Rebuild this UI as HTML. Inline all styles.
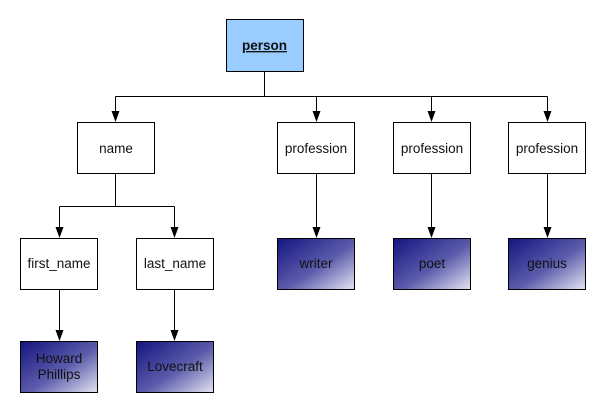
<!DOCTYPE html>
<html><head><meta charset="utf-8"><style>
html,body{margin:0;padding:0;background:#fff;}
svg{display:block;}
text{font-family:"Liberation Sans",Arial,sans-serif;font-size:13.5px;fill:#111;}
</style></head><body>
<svg width="599" height="401" viewBox="0 0 599 401" xmlns="http://www.w3.org/2000/svg">
<defs>
<linearGradient id="g" x1="0" y1="0" x2="1" y2="1">
<stop offset="0" stop-color="#141480"/>
<stop offset="0.55" stop-color="#5c5cac"/>
<stop offset="1" stop-color="#e4e4f2"/>
</linearGradient>
</defs>
<g stroke="#000" stroke-width="1" fill="none">
<path d="M264.5,71 V96.5 M115.5,96.5 H547.5"/>
<path d="M115.5,96.5 V112"/><path d="M316.5,96.5 V112"/><path d="M431.5,96.5 V112"/><path d="M547.5,96.5 V112"/>
<path d="M115.5,173 V206.5 M59.5,206.5 H174.5 M59.5,206.5 V228 M174.5,206.5 V228"/>
<path d="M59.5,289 V331"/><path d="M174.5,289 V331"/>
<path d="M316.5,173 V228"/><path d="M431.5,173 V228"/><path d="M547.5,173 V228"/>
</g>
<g fill="#000">
<path d="M111.5,111 L119.5,111 L115.5,122 Z"/>
<path d="M312.5,111 L320.5,111 L316.5,122 Z"/>
<path d="M427.5,111 L435.5,111 L431.5,122 Z"/>
<path d="M543.5,111 L551.5,111 L547.5,122 Z"/>
<path d="M55.5,227 L63.5,227 L59.5,238 Z"/>
<path d="M170.5,227 L178.5,227 L174.5,238 Z"/>
<path d="M312.5,227 L320.5,227 L316.5,238 Z"/>
<path d="M427.5,227 L435.5,227 L431.5,238 Z"/>
<path d="M543.5,227 L551.5,227 L547.5,238 Z"/>
<path d="M55.5,330 L63.5,330 L59.5,341 Z"/>
<path d="M170.5,330 L178.5,330 L174.5,341 Z"/>
</g>
<g stroke="#000" stroke-width="1">
<rect x="226.5" y="19.5" width="77" height="52" fill="#99ccff"/>
<rect x="77.5" y="122.5" width="77" height="51" fill="#fff"/>
<rect x="277.5" y="122.5" width="77" height="51" fill="#fff"/>
<rect x="393.5" y="122.5" width="77" height="51" fill="#fff"/>
<rect x="508.5" y="122.5" width="77" height="51" fill="#fff"/>
<rect x="20.5" y="238.5" width="77" height="51" fill="#fff"/>
<rect x="136.5" y="238.5" width="77" height="51" fill="#fff"/>
<rect x="277.5" y="238.5" width="77" height="51" fill="url(#g)"/>
<rect x="393.5" y="238.5" width="77" height="51" fill="url(#g)"/>
<rect x="508.5" y="238.5" width="77" height="51" fill="url(#g)"/>
<rect x="20.5" y="341.5" width="77" height="51" fill="url(#g)"/>
<rect x="136.5" y="341.5" width="77" height="51" fill="url(#g)"/>
</g>
<g text-anchor="middle">
<text x="264.5" y="50" font-weight="bold" style="text-decoration:underline">person</text>
<text x="116" y="153">name</text>
<text x="316" y="153">profession</text>
<text x="432" y="153">profession</text>
<text x="547" y="153">profession</text>
<text x="59" y="268">first_name</text>
<text x="175" y="268">last_name</text>
<text x="316" y="268">writer</text>
<text x="432" y="268">poet</text>
<text x="547" y="268">genius</text>
<text x="59" y="363">Howard</text>
<text x="59" y="379">Phillips</text>
<text x="175" y="371">Lovecraft</text>
</g>
</svg>
</body></html>
